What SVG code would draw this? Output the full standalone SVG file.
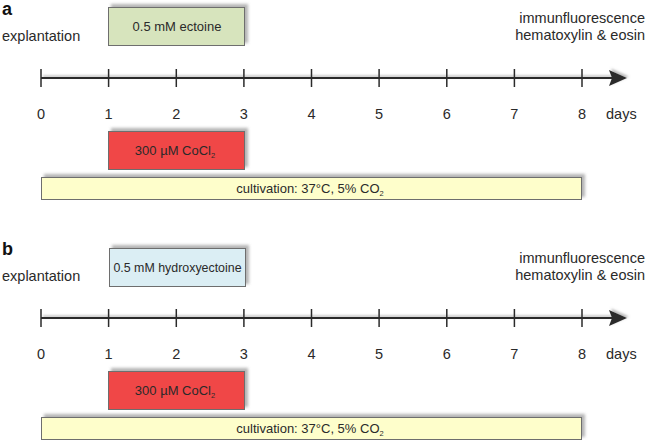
<svg xmlns="http://www.w3.org/2000/svg" width="649" height="442" viewBox="0 0 649 442">
<style>
text{font-family:"Liberation Sans",Arial,sans-serif;fill:#2a2a2a}
.lab{font-size:14.5px}
.num{font-size:14.5px;text-anchor:middle}
.bx{font-size:13px;text-anchor:middle}
.sub{font-size:7.5px}
.pl{font-size:18px;font-weight:bold;fill:#111}
.box{stroke:#6e6e6e;stroke-width:1;filter:url(#sh)}
.tick{stroke:#2b2b2b;stroke-width:1.5}
.axis{stroke:#2b2b2b;stroke-width:2.2;fill:none}
</style>
<defs>
<filter id="sh" x="-10%" y="-30%" width="130%" height="160%">
<feDropShadow dx="3" dy="-3" stdDeviation="1.5" flood-color="#777" flood-opacity="0.55"/>
</filter>
<filter id="lsh" x="-5%" y="-100%" width="110%" height="300%">
<feDropShadow dx="2" dy="-1.5" stdDeviation="1.2" flood-color="#888" flood-opacity="0.6"/>
</filter>
<g id="axisTpl">
<g filter="url(#lsh)">
<line class="axis" x1="41" y1="78" x2="612" y2="78"/>
<polygon points="609,70 627,78 609,86 612,78" fill="#2b2b2b"/>
</g>
<line class="tick" x1="41" y1="69" x2="41" y2="87"/>
<line class="tick" x1="108.6" y1="69" x2="108.6" y2="87"/>
<line class="tick" x1="176.3" y1="69" x2="176.3" y2="87"/>
<line class="tick" x1="243.9" y1="69" x2="243.9" y2="87"/>
<line class="tick" x1="311.5" y1="69" x2="311.5" y2="87"/>
<line class="tick" x1="379.1" y1="69" x2="379.1" y2="87"/>
<line class="tick" x1="446.8" y1="69" x2="446.8" y2="87"/>
<line class="tick" x1="514.4" y1="69" x2="514.4" y2="87"/>
<line class="tick" x1="582" y1="69" x2="582" y2="87"/>
</g>
</defs>

<!-- Panel a -->
<g id="panel-a">
<text id="label-a" class="pl" x="2" y="15">a</text>
<g id="a-explantation"><text class="lab" x="2" y="41">explantation</text></g>
<g id="a-endpoint">
<text class="lab" x="645" y="23" text-anchor="end">immunfluorescence</text>
<text class="lab" x="645" y="40" text-anchor="end">hematoxylin &amp; eosin</text>
</g>
<g id="a-connectors"><use href="#axisTpl"/></g>
<g id="a-ticklabels">
<text class="num" x="41" y="119">0</text>
<text class="num" x="108.6" y="119">1</text>
<text class="num" x="176.3" y="119">2</text>
<text class="num" x="243.9" y="119">3</text>
<text class="num" x="311.5" y="119">4</text>
<text class="num" x="379.1" y="119">5</text>
<text class="num" x="446.8" y="119">6</text>
<text class="num" x="514.4" y="119">7</text>
<text class="num" x="582" y="119">8</text>
<text class="lab" x="606" y="119">days</text>
</g>
<g id="a-ectoine">
<rect class="box" x="108.5" y="7.5" width="136" height="38" fill="#d7e4bd"/>
<text class="bx" x="177" y="31">0.5 mM ectoine</text>
</g>
<g id="a-cocl2">
<rect class="box" x="108.5" y="131.5" width="136" height="38" fill="#f04747"/>
<text class="bx" x="175" y="155">300 µM CoCl<tspan class="sub" dy="3">2</tspan></text>
</g>
<g id="a-cultivation">
<rect class="box" x="41.5" y="177.5" width="540" height="22" fill="#fefecb"/>
<text class="bx" x="310" y="193">cultivation: 37°C, 5% CO<tspan class="sub" dy="3">2</tspan></text>
</g>
</g>

<!-- Panel b -->
<g id="panel-b">
<text id="label-b" class="pl" x="2" y="255">b</text>
<g id="b-explantation"><text class="lab" x="2" y="281">explantation</text></g>
<g id="b-endpoint">
<text class="lab" x="645" y="263" text-anchor="end">immunfluorescence</text>
<text class="lab" x="645" y="280" text-anchor="end">hematoxylin &amp; eosin</text>
</g>
<g id="b-connectors"><use href="#axisTpl" transform="translate(0,240)"/></g>
<g id="b-ticklabels">
<text class="num" x="41" y="359">0</text>
<text class="num" x="108.6" y="359">1</text>
<text class="num" x="176.3" y="359">2</text>
<text class="num" x="243.9" y="359">3</text>
<text class="num" x="311.5" y="359">4</text>
<text class="num" x="379.1" y="359">5</text>
<text class="num" x="446.8" y="359">6</text>
<text class="num" x="514.4" y="359">7</text>
<text class="num" x="582" y="359">8</text>
<text class="lab" x="606" y="359">days</text>
</g>
<g id="b-hydroxyectoine">
<rect class="box" x="109.5" y="248.5" width="136" height="38" fill="#dbeef4"/>
<text class="bx" x="177.5" y="272" style="font-size:12.4px">0.5 mM hydroxyectoine</text>
</g>
<g id="b-cocl2">
<rect class="box" x="108.5" y="371.5" width="136" height="38" fill="#f04747"/>
<text class="bx" x="175" y="395">300 µM CoCl<tspan class="sub" dy="3">2</tspan></text>
</g>
<g id="b-cultivation">
<rect class="box" x="41.5" y="417.5" width="540" height="22" fill="#fefecb"/>
<text class="bx" x="310" y="433">cultivation: 37°C, 5% CO<tspan class="sub" dy="3">2</tspan></text>
</g>
</g>
</svg>
